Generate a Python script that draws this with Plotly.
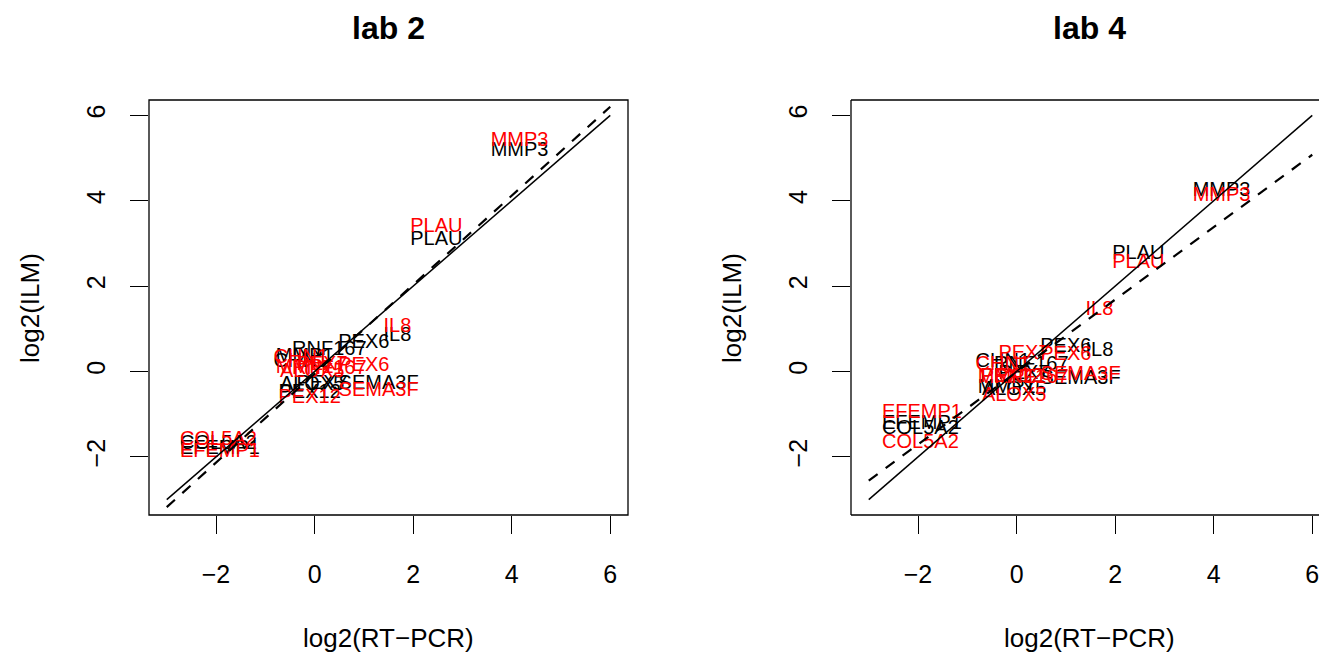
import plotly.graph_objects as go

# ---------------- data ----------------
genes = ["MMP3", "PLAU", "IL8", "PEX6", "RNF167", "MMP1", "CHN1",
         "PEX7", "ALOX5", "SEMA3F", "PEX12", "COL5A2", "EFEMP1"]
rtpcr = [4.16, 2.47, 1.68, 1.00, 0.30, -0.20, -0.28,
         0.15, -0.05, 1.30, -0.10, -1.95, -1.92]

lab2_black = [5.16, 3.08, 0.83, 0.67, 0.50, 0.34, 0.22,
              -0.29, -0.31, -0.29, -0.50, -1.70, -1.81]
lab2_red = [5.40, 3.38, 1.04, 0.13, 0.06, 0.08, 0.32,
            0.15, -0.02, -0.46, -0.62, -1.60, -1.89]
lab4_black = [4.23, 2.75, 0.48, 0.57, 0.15, -0.39, 0.22,
              -0.05, -0.43, -0.17, -0.12, -1.35, -1.23]
lab4_red = [4.11, 2.54, 1.44, 0.39, -0.15, -0.15, 0.15,
            0.40, -0.57, -0.08, -0.13, -1.68, -0.97]

line_x = [-3, 6]
lab2_fit = (-0.05, 1.042)   # intercept, slope
lab4_fit = (-0.01, 0.848)

tick_vals = [-2, 0, 2, 4, 6]
tick_text = ["\u22122", "0", "2", "4", "6"]
titles = ["lab 2", "lab 4"]

# ---------------- figure ----------------
W, H = 1319, 656
FONT = "Liberation Sans, Arial, sans-serif"
LABEL_SIZE = 20
TICK_SIZE = 25
fig = go.Figure()

panels = [("x", "y", lab2_black, lab2_red, lab2_fit),
          ("x2", "y2", lab4_black, lab4_red, lab4_fit)]

for xa, ya, yb, yr, fit in panels:
    fig.add_trace(go.Scatter(x=rtpcr, y=yb, text=genes, mode="text",
                             textposition="middle center",
                             textfont=dict(color="black", size=LABEL_SIZE, family=FONT),
                             xaxis=xa, yaxis=ya, showlegend=False, hoverinfo="skip"))
    fig.add_trace(go.Scatter(x=rtpcr, y=yr, text=genes, mode="text",
                             textposition="middle center",
                             textfont=dict(color="red", size=LABEL_SIZE, family=FONT),
                             xaxis=xa, yaxis=ya, showlegend=False, hoverinfo="skip"))
    fig.add_trace(go.Scatter(x=line_x, y=line_x, mode="lines",
                             line=dict(color="black", width=1.5),
                             xaxis=xa, yaxis=ya, showlegend=False, hoverinfo="skip"))
    fig.add_trace(go.Scatter(x=line_x, y=[fit[0] + fit[1] * v for v in line_x],
                             mode="lines",
                             line=dict(color="black", width=2.2, dash="11px,10px"),
                             xaxis=xa, yaxis=ya, showlegend=False, hoverinfo="skip"))

def px_x(p):
    return p / W

def px_y(p):
    return 1 - p / H

ydom = [px_y(515), px_y(100)]
xdom1 = [px_x(149), px_x(628)]
xdom2 = [px_x(851), 1.0]

axis_common = dict(
    showgrid=False, zeroline=False, showline=False,
    ticks="outside", ticklen=18, tickwidth=1.3, tickcolor="black",
    tickvals=tick_vals, ticktext=tick_text, ticklabeloverflow="allow",
    tickfont=dict(size=TICK_SIZE, color="black", family=FONT),
)

fig.update_layout(
    width=W, height=H,
    margin=dict(l=0, r=0, t=0, b=0),
    paper_bgcolor="white", plot_bgcolor="white",
    xaxis=dict(domain=xdom1, range=[-3.36, 6.36], anchor="y",
               ticklabelstandoff=19, **axis_common),
    yaxis=dict(domain=ydom, range=[-3.36, 6.36], anchor="x",
               tickangle=-90, ticklabelstandoff=15, **axis_common),
    xaxis2=dict(domain=xdom2, range=[-3.36, -3.36 + (1319 - 851) / 49.28], anchor="y2",
                ticklabelstandoff=19, **axis_common),
    yaxis2=dict(domain=ydom, range=[-3.36, 6.36], anchor="x2",
                tickangle=-90, ticklabelstandoff=15, **axis_common),
)

# plot boxes
box = dict(color="black", width=1.3)
fig.add_shape(type="rect", xref="x domain", yref="y domain",
              x0=0, x1=1, y0=0, y1=1, line=box, layer="above")
for (x0, y0, x1, y1) in [(0, 0, 0, 1), (0, 0, 1.01, 0), (0, 1, 1.01, 1)]:
    fig.add_shape(type="line", xref="x2 domain", yref="y2 domain",
                  x0=x0, x1=x1, y0=y0, y1=y1, line=box, layer="above")

# titles and axis labels
centers = [(149 + 628) / 2, (851 + 1328) / 2]
for cx, t in zip(centers, titles):
    fig.add_annotation(text=f"<b>{t}</b>", x=px_x(cx), y=px_y(28),
                       xref="paper", yref="paper", showarrow=False,
                       xanchor="center", yanchor="middle",
                       font=dict(size=32, color="black", family=FONT))
    fig.add_annotation(text="log2(RT\u2212PCR)", x=px_x(cx), y=px_y(638),
                       xref="paper", yref="paper", showarrow=False,
                       xanchor="center", yanchor="middle",
                       font=dict(size=26, color="black", family=FONT))
for lx in [30, 732]:
    fig.add_annotation(text="log2(ILM)", x=px_x(lx), y=px_y(308),
                       xref="paper", yref="paper", showarrow=False, textangle=-90,
                       xanchor="center", yanchor="middle",
                       font=dict(size=26, color="black", family=FONT))

fig.write_html("out.html")
